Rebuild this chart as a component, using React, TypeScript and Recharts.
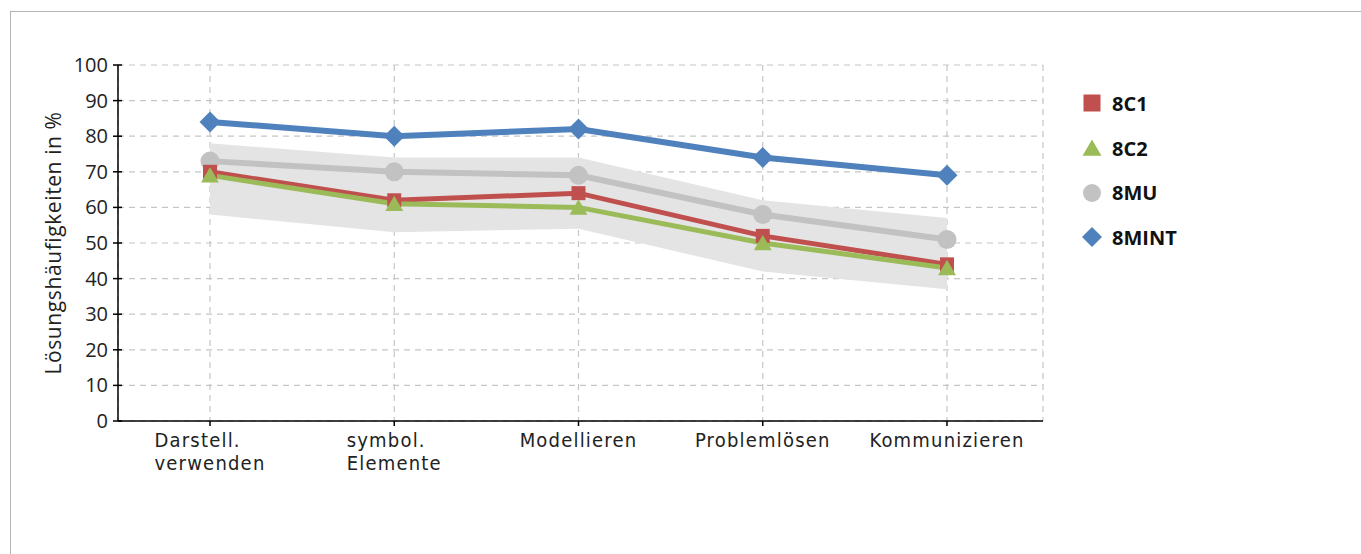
import { Area, CartesianGrid, ComposedChart, Legend, Line, XAxis, YAxis } from "recharts"

const CATEGORIES = ["Darstell.\nverwenden", "symbol.\nElemente", "Modellieren", "Problemlösen", "Kommunizieren"]
const C1 = [70, 62, 64, 52, 44]
const C2 = [69, 61, 60, 50, 43]
const MU = [73, 70, 69, 58, 51]
const MINT = [84, 80, 82, 74, 69]
const BAND_LO = [58, 53, 54, 42, 37]
const BAND_HI = [78, 74, 74, 62, 57]
const Y_TICKS = [0, 10, 20, 30, 40, 50, 60, 70, 80, 90, 100]

const RED = "#c0504d"
const GREEN = "#9bbb59"
const GREY = "#c2c2c2"
const BLUE = "#4f81bd"
const BAND = "#e4e4e4"
const GRID = "#c6c6c6"
const SANS = "'Open Sans', sans-serif"

const data = CATEGORIES.map((cat, i) => ({
  cat,
  c1: C1[i],
  c2: C2[i],
  mu: MU[i],
  mint: MINT[i],
  band: [BAND_LO[i], BAND_HI[i]],
}))

type Shape = "square" | "triangle" | "circle" | "diamond"

function Marker({ shape, cx, cy, color, s }: { shape: Shape; cx: number; cy: number; color: string; s: number }) {
  const h = s / 2
  if (shape === "square") return <rect x={cx - h} y={cy - h} width={s} height={s} fill={color} />
  if (shape === "triangle")
    return <polygon points={`${cx},${cy - h * 0.95} ${cx + h * 1.05},${cy + h * 0.85} ${cx - h * 1.05},${cy + h * 0.85}`} fill={color} />
  if (shape === "circle") return <circle cx={cx} cy={cy} r={h} fill={color} />
  return <polygon points={`${cx},${cy - h} ${cx + h},${cy} ${cx},${cy + h} ${cx - h},${cy}`} fill={color} />
}

const dotOf = (shape: Shape, color: string, s: number) => (p: any) => (
  <Marker key={p.index} shape={shape} cx={p.cx} cy={p.cy} color={color} s={s} />
)

const SERIES: { key: string; name: string; shape: Shape; color: string; width: number; size: number }[] = [
  { key: "mu", name: "8MU", shape: "circle", color: GREY, width: 6, size: 19 },
  { key: "c1", name: "8C1", shape: "square", color: RED, width: 5, size: 14 },
  { key: "c2", name: "8C2", shape: "triangle", color: GREEN, width: 5, size: 17 },
  { key: "mint", name: "8MINT", shape: "diamond", color: BLUE, width: 6, size: 21 },
]
const LEGEND_ORDER = ["c1", "c2", "mu", "mint"]

function XTick({ x, y, payload }: any) {
  const lines = String(payload.value).split("\n")
  return (
    <foreignObject x={x - 110} y={y + 1} width={220} height={60}>
      <div style={{ textAlign: "center" }}>
        <span
          style={{
            display: "inline-block",
            textAlign: "left",
            fontFamily: "'DejaVu Sans Condensed', 'DejaVu Sans', sans-serif",
            fontSize: 20,
            letterSpacing: 1.2,
            lineHeight: "23px",
            color: "#222",
            whiteSpace: "nowrap",
          }}
        >
          {lines.map((l, i) => (
            <div key={i}>{l}</div>
          ))}
        </span>
      </div>
    </foreignObject>
  )
}

function YTick({ x, y, payload }: any) {
  return (
    <g>
      <line x1={x + 5} x2={x + 14} y1={y} y2={y} stroke="#000" strokeWidth={1.5} />
      <text x={x} y={y} dy={7} textAnchor="end" fontFamily={SANS} fontSize={20} fill="#222">
        {payload.value}
      </text>
    </g>
  )
}

function LegendBox() {
  return (
    <div style={{ fontFamily: SANS }}>
      {LEGEND_ORDER.map((k) => {
        const s = SERIES.find((d) => d.key === k)!
        return (
          <div key={k} style={{ display: "flex", alignItems: "center", height: 44.7 }}>
            <svg width={24} height={24} style={{ marginRight: 8 }}>
              <Marker shape={s.shape} cx={12} cy={12} color={s.color} s={s.shape === "square" ? 17 : s.shape === "diamond" ? 20 : 18} />
            </svg>
            <span style={{ fontSize: 20, fontWeight: 700, color: "#111" }}>{s.name}</span>
          </div>
        )
      })}
    </div>
  )
}

export default function App() {
  return (
    <div style={{ position: "fixed", left: 0, top: 0, width: 1361, height: 554, overflow: "hidden", background: "#fff" }}>
      <div
        style={{
          position: "absolute",
          left: 10,
          top: 11,
          width: 1400,
          height: 600,
          borderTop: "1px solid #b4b4b4",
          borderLeft: "1px solid #b4b4b4",
        }}
      />
      <div style={{ position: "absolute", left: 0, top: 0 }}>
        <ComposedChart width={1361} height={554} data={data} margin={{ top: 65, right: 318, bottom: 73, left: 0 }}>
          <CartesianGrid stroke={GRID} strokeDasharray="6 5" strokeWidth={1.2} />
          <XAxis
            dataKey="cat"
            scale="point"
            padding={{ left: 92, right: 96 }}
            height={60}
            axisLine={{ stroke: "#000", strokeWidth: 1.5 }}
            tickLine={{ stroke: "#000", strokeWidth: 1.5 }}
            tickSize={5}
            tick={<XTick />}
            interval={0}
          />
          <YAxis
            width={118}
            domain={[0, 100]}
            ticks={Y_TICKS}
            interval={0}
            axisLine={{ stroke: "#000", strokeWidth: 1.5 }}
            tickLine={false}
            tickSize={5}
            tickMargin={5}
            tick={<YTick />}
            label={{
              value: "Lösungshäufigkeiten in %",
              angle: -90,
              position: "center",
              dx: -5,
              fontFamily: SANS,
              fontSize: 21,
              letterSpacing: 0.6,
              fill: "#222",
            }}
          />
          <Area
            dataKey="band"
            type="linear"
            stroke="none"
            fill={BAND}
            fillOpacity={1}
            isAnimationActive={false}
            legendType="none"
          />
          {SERIES.map((s) => (
            <Line
              key={s.key}
              dataKey={s.key}
              name={s.name}
              type="linear"
              stroke={s.color}
              strokeWidth={s.width}
              dot={dotOf(s.shape, s.color, s.size)}
              activeDot={false}
              isAnimationActive={false}
            />
          ))}
          <Legend
            layout="vertical"
            align="center"
            verticalAlign="middle"
            content={<LegendBox />}
            wrapperStyle={{ left: 1080, top: 81, width: 200 }}
          />
        </ComposedChart>
      </div>
    </div>
  )
}
